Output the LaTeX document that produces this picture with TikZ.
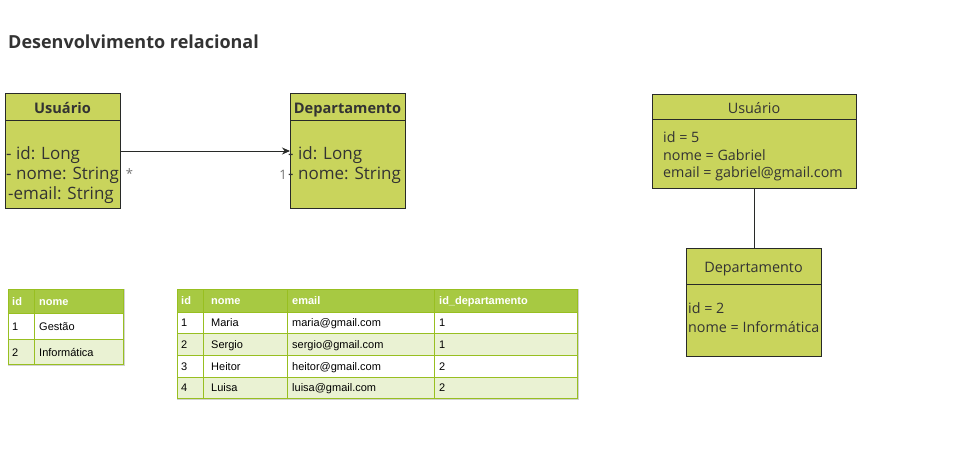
\documentclass[tikz,border=0pt]{standalone}
\usepackage{fontspec}
\setmainfont{Open Sans}
\newfontfamily\arial{Liberation Sans}
\usetikzlibrary{arrows.meta}
\definecolor{umlfill}{RGB}{201,212,92}
\definecolor{umlline}{RGB}{40,42,40}
\definecolor{txt}{RGB}{51,51,51}
\definecolor{thead}{RGB}{167,201,66}
\definecolor{talt}{RGB}{234,242,211}
\definecolor{tline}{RGB}{152,191,33}
\definecolor{tshadow}{RGB}{210,210,210}
\tikzset{
  box/.style={draw=umlline, fill=umlfill, line width=1pt, inner sep=0pt, anchor=north west},
  attr/.style={inner sep=0pt, anchor=base west, text=txt, font=\fontsize{17}{20}\selectfont},
  obj/.style={inner sep=0pt, anchor=base west, text=txt, font=\fontsize{14.3}{18}\selectfont},
  hdrb/.style={inner sep=0pt, anchor=base, text=txt, font=\fontsize{14.6}{18}\selectfont\bfseries},
  hdr/.style={inner sep=0pt, anchor=base, text=txt, font=\fontsize{14.4}{18}\selectfont},
  mult/.style={inner sep=0pt, anchor=base, text=gray!90!black, font=\fontsize{13}{15}\selectfont},
  th/.style={inner sep=0pt, anchor=base west, text=white, font=\arial\fontsize{11}{13}\selectfont\bfseries},
  td/.style={inner sep=0pt, anchor=base west, text=black, font=\arial\fontsize{11}{13}\selectfont},
  grid/.style={draw=tline, line width=0.8pt},
}
\begin{document}
\begin{tikzpicture}[x=1pt,y=-1pt]
\useasboundingbox[fill=white] (0,0) rectangle (958,471);

% title
\node[inner sep=0pt, anchor=base west, text=txt, font=\fontsize{18}{21}\selectfont\bfseries] (title) at (8,48.5) {Desenvolvimento relacional};

% class Usuario
\node[box, minimum width=115pt, minimum height=115pt] (cu) at (5,93) {};
\draw[draw=umlline, line width=1pt] (5,120.5) -- (120,120.5);
\node[hdrb] (cuh) at (62.5,113) {Usuário};
\node[attr] (cu1) at (6,159) {- id: Long};
\node[attr] (cu2) at (6,179) {- nome: String};
\node[attr] (cu3) at (8,199) {-email: String};

% class Departamento
\node[box, minimum width=115pt, minimum height=115pt] (cd) at (290,93) {};
\draw[draw=umlline, line width=1pt] (290,120.5) -- (405,120.5);
\node[hdrb] (cdh) at (347.5,113) {Departamento};
\node[attr] (cd1) at (288,159) {- id: Long};
\node[attr] (cd2) at (288,179) {- nome: String};

% association
\coordinate (a1) at (120,151);
\coordinate (a2) at (290,151);
\draw[line width=0.9pt, color=umlline, -{Stealth[length=8pt,width=7pt]}] (a1) -- (a2);
\node[mult] (m1) at (129.5,178) {*};
\node[mult] (m2) at (283,179) {1};

% object Usuario
\node[box, minimum width=204pt, minimum height=94pt] (ou) at (652,93.5) {};
\draw[draw=umlline, line width=1pt] (652,119.5) -- (856,119.5);
\node[hdr] (ouh) at (754,113) {Usuário};
\node[obj] (ou1) at (663,142) {id = 5};
\node[obj] (ou2) at (663,160) {nome = Gabriel};
\node[obj] (ou3) at (663,177.5) {email = gabriel@gmail.com};

% object Departamento
\node[box, minimum width=135pt, minimum height=108pt] (od) at (686,247.5) {};
\draw[draw=umlline, line width=1pt] (686,284) -- (821,284);
\node[hdr] (odh) at (753.5,272) {Departamento};
\node[obj] (od1) at (688,313) {id = 2};
\node[obj] (od2) at (688,332) {nome = Informática};

\draw[draw=umlline, line width=1pt] (ou.south -| 754,0) -- (od.north -| 754,0);

% table 1: departamento
\draw[tshadow, line width=1pt] (124,289) -- (124,365) -- (8,365);
\fill[thead] (8,289) rectangle (123,313);
\fill[white] (8,313) rectangle (123,339);
\fill[talt] (8,339) rectangle (123,364);
\draw[grid] (8,313) -- (123,313) (8,339) -- (123,339);
\draw[grid] (8,289) rectangle (123,364);
\draw[grid] (34,289) -- (34,364);
\node[th] (t1h1) at (12,305) {id};
\node[th] (t1h2) at (39,305) {nome};
\node[td] (t1a1) at (12,330.5) {1};
\node[td] (t1a2) at (39,330.5) {Gestão};
\node[td] (t1b1) at (12,356) {2};
\node[td] (t1b2) at (39,356) {Informática};

% table 2: usuario
\draw[tshadow, line width=1pt] (578,289) -- (578,399.5) -- (177,399.5);
\fill[thead] (177,289) rectangle (577,312);
\fill[white] (177,312) rectangle (577,333);
\fill[talt] (177,333) rectangle (577,355);
\fill[white] (177,355) rectangle (577,377);
\fill[talt] (177,377) rectangle (577,398.5);
\draw[grid] (177,312) -- (577,312) (177,333) -- (577,333) (177,355) -- (577,355) (177,377) -- (577,377);
\draw[grid] (177,289) rectangle (577,398.5);
\draw[grid] (203,289) -- (203,398.5) (287,289) -- (287,398.5) (434,289) -- (434,398.5);
\node[th] (t2h1) at (181,304) {id};
\node[th] (t2h2) at (211,304) {nome};
\node[th] (t2h3) at (292,304) {email};
\node[th] (t2h4) at (439,304) {id\_departamento};
\node[td] (r1a) at (181,326.5) {1};
\node[td] (r1b) at (211,326.5) {Maria};
\node[td] (r1c) at (292,326.5) {maria@gmail.com};
\node[td] (r1d) at (439,326.5) {1};
\node[td] (r2a) at (181,348) {2};
\node[td] (r2b) at (211,348) {Sergio};
\node[td] (r2c) at (292,348) {sergio@gmail.com};
\node[td] (r2d) at (439,348) {1};
\node[td] (r3a) at (181,370) {3};
\node[td] (r3b) at (211,370) {Heitor};
\node[td] (r3c) at (292,370) {heitor@gmail.com};
\node[td] (r3d) at (439,370) {2};
\node[td] (r4a) at (181,391.5) {4};
\node[td] (r4b) at (211,391.5) {Luisa};
\node[td] (r4c) at (292,391.5) {luisa@gmail.com};
\node[td] (r4d) at (439,391.5) {2};
\end{tikzpicture}
\end{document}
